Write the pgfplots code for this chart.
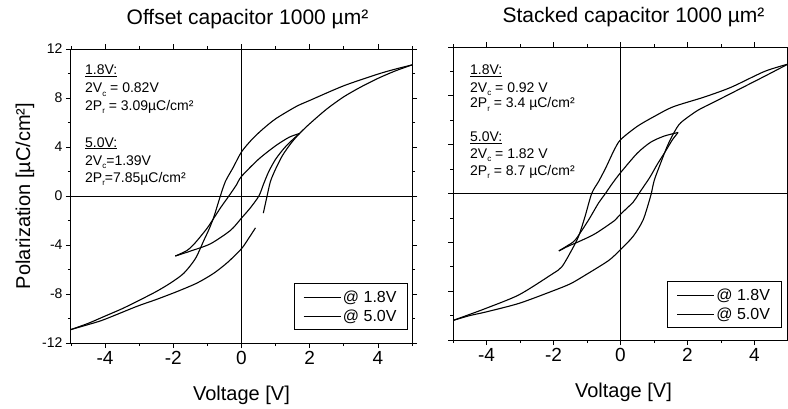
\documentclass[border=0pt]{standalone}
\usepackage{fontspec}
\setmainfont{Liberation Sans}
\usepackage{pgfplots}
\pgfplotsset{compat=1.18}

\newcommand{\sub}[1]{\raisebox{-3.5pt}{\fontsize{8}{8}\selectfont #1}}

\pgfplotsset{
 curve/.style={black, line width=1.1pt, mark=none, line join=round, smooth, tension=0.45},
 hyst/.style={
  scale only axis, xmin=-5,xmax=5,ymin=-12,ymax=12,
  xtick={-4,-2,0,2,4}, minor xtick={-5,-3,-1,1,3,5},
  ytick={-12,-8,...,12}, minor ytick={-10,-6,...,10},
  tick align=outside, major tick length=5pt, minor tick length=3pt,
  every tick/.style={black, line width=0.8pt},
  axis line style={line width=1pt},
  /pgf/number format/assume math mode=true,
  x tick label style={font=\fontsize{19}{22}\selectfont},
  y tick label style={font=\fontsize{14}{16}\selectfont},
  extra x ticks={0}, extra x tick labels={}, extra y ticks={0}, extra y tick labels={},
  extra tick style={grid=major},
  major grid style={black, line width=0.9pt},
  legend cell align=left,
  legend style={draw=black, line width=0.7pt, font=\fontsize{16}{18}\selectfont, inner xsep=9pt, inner ysep=5pt, row sep=2pt, anchor=south east},
  legend image code/.code={\draw[black, line width=0.6pt] (0pt,0pt) -- (37pt,0pt);},
  title style={font=\fontsize{21}{24}\selectfont, at={(0.5,1)}, anchor=base, yshift=19pt},
  xlabel style={font=\fontsize{20}{24}\selectfont, at={(0.5,-0.197)}, anchor=base},
  ylabel style={font=\fontsize{20}{24}\selectfont},
}}

\begin{document}
\begin{tikzpicture}
\useasboundingbox (0,0) rectangle (788pt,408pt);

% ---------------- Offset capacitor ----------------
\begin{axis}[hyst, at={(71pt,65pt)}, anchor=south west, width=341pt, height=294pt,
  title={Offset capacitor 1000 µm²}, title style={xshift=6pt},
  xlabel={Voltage [V]},
  ylabel={Polarization [µC/cm²]},
  ylabel style={at={(-0.12,0.5)}, anchor=base},
  legend style={at={(0.988,0.044)}}]
% 1.8 V loop: descending branch
\addplot[curve] coordinates {(1.7,5.1)(1.4,4.8)(1.0,4.1)(0.5,3.0)(0,1.6)(-0.15,0.9)(-0.37,0)(-0.6,-0.9)(-0.81,-1.8)(-1.0,-2.6)(-1.2,-3.3)(-1.4,-3.95)(-1.6,-4.45)(-1.94,-4.9)};
\addlegendentry{@ 1.8V}
% 5.0 V loop: ascending branch (part 1)
\addplot[curve] coordinates {(-5,-10.9)(-4.5,-10.5)(-4.04,-10.1)(-3.06,-9.0)(-2.5,-8.45)(-1.89,-7.8)(-1.3,-7.1)(-0.81,-6.3)(-0.4,-5.4)(0,-4.3)(0.2,-3.5)(0.41,-2.6)};
\addlegendentry{@ 5.0V}
% 1.8 V ascending branch
\addplot[curve, forget plot] coordinates {(-1.94,-4.9)(-1.5,-4.5)(-0.91,-3.9)(-0.32,-2.8)(0,-1.8)(0.25,-1.0)(0.51,0)(0.65,1.0)(0.8,2.0)(1.0,3.0)(1.25,3.9)(1.5,4.6)(1.7,5.1)};
% 5.0 V ascending branch (part 2)
\addplot[curve, forget plot] coordinates {(0.64,-1.4)(0.75,0)(0.85,1.2)(1.0,2.2)(1.2,3.3)(1.45,4.3)(1.7,5.1)(2.0,5.9)(2.5,7.1)(3,8.1)(3.5,8.9)(4,9.6)(4.5,10.2)(5,10.7)};
% 5.0 V descending branch
\addplot[curve, forget plot] coordinates {(5,10.7)(4.5,10.35)(4,9.95)(3,9.0)(2,7.8)(1.6,7.3)(1.0,6.3)(0.6,5.4)(0.3,4.6)(0,3.6)(-0.25,2.3)(-0.47,1.2)(-0.62,0)(-0.81,-1.7)(-0.95,-2.7)(-1.1,-3.6)(-1.35,-5.1)(-1.69,-6.3)(-2.08,-7.1)(-2.5,-7.8)(-3.06,-8.6)(-3.5,-9.2)(-4.04,-9.85)(-4.5,-10.4)(-5,-10.9)};
\end{axis}

% ---------------- Stacked capacitor ----------------
\begin{axis}[hyst, at={(453pt,68pt)}, anchor=south west, width=335pt, height=293pt,
  title={Stacked capacitor 1000 µm²}, title style={xshift=13pt},
  xlabel={Voltage [V]}, xlabel style={xshift=3pt},
  yticklabels={},
  legend style={at={(0.98,0.041)}}]
\addplot[curve] coordinates {(1.72,5.0)(1.3,4.7)(0.9,4.2)(0.5,3.3)(0,1.7)(-0.25,0.8)(-0.45,0)(-0.66,-0.8)(-0.96,-2.2)(-1.35,-3.8)(-1.6,-4.3)(-1.84,-4.7)};
\addlegendentry{@ 1.8V}
\addplot[curve] coordinates {(-5,-10.4)(-4.5,-10.0)(-4.01,-9.7)(-3.03,-9.0)(-2.04,-8.0)(-1.5,-7.4)(-1.06,-6.7)(-0.36,-5.5)(0,-4.6)(0.38,-3.5)(0.67,-2.2)(0.87,-0.5)(0.92,0)(1.01,1.1)(1.2,2.5)(1.4,3.9)(1.6,5.0)(1.8,5.8)(2.3,6.8)(2.8,7.5)(3.3,8.2)(3.8,8.9)(4.3,9.6)(5,10.6)};
\addlegendentry{@ 5.0V}
\addplot[curve, forget plot] coordinates {(-1.84,-4.7)(-1.55,-4.3)(-1.25,-3.95)(-0.76,-3.3)(-0.17,-2.2)(0,-1.7)(0.38,-0.7)(0.55,0)(0.87,1.3)(1.1,2.4)(1.33,3.4)(1.55,4.4)(1.72,5.0)};
\addplot[curve, forget plot] coordinates {(5,10.6)(4.3,10.0)(3.3,8.7)(2.5,7.9)(1.57,7.1)(1,6.3)(0.5,5.5)(0,4.4)(-0.2,3.5)(-0.44,2.1)(-0.65,1.0)(-0.86,0)(-1.06,-1.9)(-1.25,-3.5)(-1.45,-4.6)(-1.75,-6.0)(-2.04,-6.6)(-3.03,-8.3)(-4.01,-9.4)(-4.5,-9.9)(-5,-10.4)};
\end{axis}

% ---------------- annotations ----------------
\begin{scope}[every node/.style={anchor=base west, inner sep=0pt, font=\fontsize{14}{16}\selectfont}]
\node at (85pt,333pt) {\underline{1.8V:}};
\node at (85pt,315pt) {2V\sub{c} = 0.82V};
\node at (85pt,298pt) {2P\sub{r} = 3.09µC/cm²};
\node at (85pt,261pt) {\underline{5.0V:}};
\node at (85pt,243pt) {2V\sub{c}=1.39V};
\node at (85pt,226pt) {2P\sub{r}=7.85µC/cm²};
\node at (470pt,333pt) {\underline{1.8V:}};
\node at (470pt,316pt) {2V\sub{c} = 0.92 V};
\node at (470pt,300pt) {2P\sub{r} = 3.4 µC/cm²};
\node at (470pt,266pt) {\underline{5.0V:}};
\node at (470pt,250pt) {2V\sub{c} = 1.82 V};
\node at (470pt,233pt) {2P\sub{r} = 8.7 µC/cm²};
\end{scope}
\end{tikzpicture}
\end{document}
